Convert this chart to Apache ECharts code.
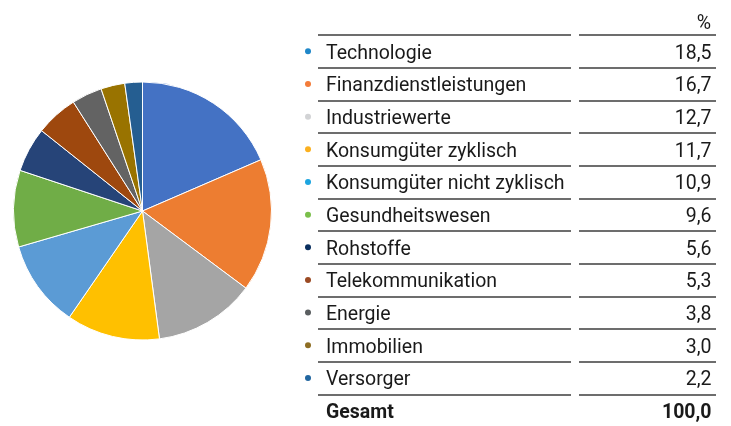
<!DOCTYPE html>
<html>
<head>
<meta charset="utf-8">
<script src="https://cdn.jsdelivr.net/npm/echarts@6/dist/echarts.min.js"></script>
<style>
  html, body { margin: 0; padding: 0; background: #fff; }
  #chart { width: 731px; height: 426px; }
</style>
</head>
<body>
<div id="chart"></div>
<script>
// sector weights, in %
const sectors = [
  "Technologie",
  "Finanzdienstleistungen",
  "Industriewerte",
  "Konsumgüter zyklisch",
  "Konsumgüter nicht zyklisch",
  "Gesundheitswesen",
  "Rohstoffe",
  "Telekommunikation",
  "Energie",
  "Immobilien",
  "Versorger",
];
const shares = [18.5, 16.7, 12.7, 11.7, 10.9, 9.6, 5.6, 5.3, 3.8, 3.0, 2.2];
const totalLabel = "Gesamt";
const totalValue = 100.0;

const sliceColors = ["#4472C4", "#ED7D31", "#A5A5A5", "#FFC000", "#5B9BD5", "#70AD47",
  "#264478", "#9E480E", "#636363", "#997300", "#255E91"];
const dotColors = ["#1F87C9", "#F37C3A", "#D2D3D5", "#FBB01F", "#1DA5E0", "#7ABF4B",
  "#0A2F5F", "#9B4A23", "#5A5E60", "#8E6E23", "#2166A0"];

const font = "Roboto, 'Liberation Sans', sans-serif";
const fontSize = 19.5;
const textColor = "#1a1a1a";
const lineColor = "#3c3c3c";

const rowNames = sectors.concat([totalLabel]);
const rowValues = shares.concat([totalValue]).map((v) => v.toFixed(1).replace(".", ","));
const lastRow = rowNames.length - 1;

const rowH = 32.66;
const tableTop = 35;
const tableH = rowH * rowNames.length;

// one rule above every row, none under the total
const ruleColors = rowNames.map(() => lineColor).concat(["rgba(0,0,0,0)"]);

const dotRich = {};
dotColors.forEach((c, i) => {
  dotRich["d" + i] = { width: 6, height: 6, borderRadius: 3, backgroundColor: c };
});

const boldRich = { b: { fontFamily: font, fontSize: fontSize, fontWeight: "bold", color: textColor } };

const chart = echarts.init(document.getElementById("chart"));

chart.setOption({
  animation: false,
  title: {
    text: "%",
    right: 20,
    top: 14,
    padding: 0,
    textStyle: { fontFamily: font, fontSize: fontSize, fontWeight: "normal", color: textColor },
  },
  grid: [
    { left: 318, width: 253, top: tableTop, height: tableH, outerBoundsMode: "none" },
    { left: 579, width: 137, top: tableTop, height: tableH, outerBoundsMode: "none" },
  ],
  xAxis: [
    { gridIndex: 0, type: "value", show: false, min: 0, max: 1 },
    { gridIndex: 1, type: "value", show: false, min: 0, max: 1 },
  ],
  yAxis: [
    {
      gridIndex: 0,
      type: "category",
      position: "left",
      inverse: true,
      data: rowNames,
      axisLine: { show: false },
      axisTick: { show: false },
      splitLine: { show: true, lineStyle: { color: ruleColors, width: 1.5 } },
      axisLabel: {
        inside: true,
        margin: 8,
        padding: [5, 0, 0, 0],
        fontFamily: font,
        fontSize: fontSize,
        color: textColor,
        formatter: (v, i) => (i === lastRow ? "{b|" + v + "}" : v),
        rich: boldRich,
      },
    },
    {
      gridIndex: 0,
      type: "category",
      position: "left",
      offset: 0,
      inverse: true,
      data: rowNames,
      axisLine: { show: false },
      axisTick: { show: false },
      splitLine: { show: false },
      axisLabel: {
        margin: 10,
        align: "center",
        formatter: (v, i) => (i === lastRow ? "" : "{d" + i + "|}"),
        rich: dotRich,
      },
    },
    {
      gridIndex: 1,
      type: "category",
      position: "right",
      inverse: true,
      data: rowValues,
      axisLine: { show: false },
      axisTick: { show: false },
      splitLine: { show: true, lineStyle: { color: ruleColors, width: 1.5 } },
      axisLabel: {
        margin: -4.5,
        align: "right",
        padding: [5, 0, 0, 0],
        fontFamily: font,
        fontSize: fontSize,
        color: textColor,
        formatter: (v, i) => (i === lastRow ? "{b|" + v + "}" : v),
        rich: boldRich,
      },
    },
  ],
  series: [
    {
      type: "pie",
      center: [142.5, 211],
      radius: 129,
      startAngle: 90,
      clockwise: true,
      silent: true,
      label: { show: false },
      labelLine: { show: false },
      itemStyle: { borderColor: "#fff", borderWidth: 1 },
      data: sectors.map((name, i) => ({
        name,
        value: shares[i],
        itemStyle: { color: sliceColors[i] },
      })),
    },
  ],
});
</script>
</body>
</html>
